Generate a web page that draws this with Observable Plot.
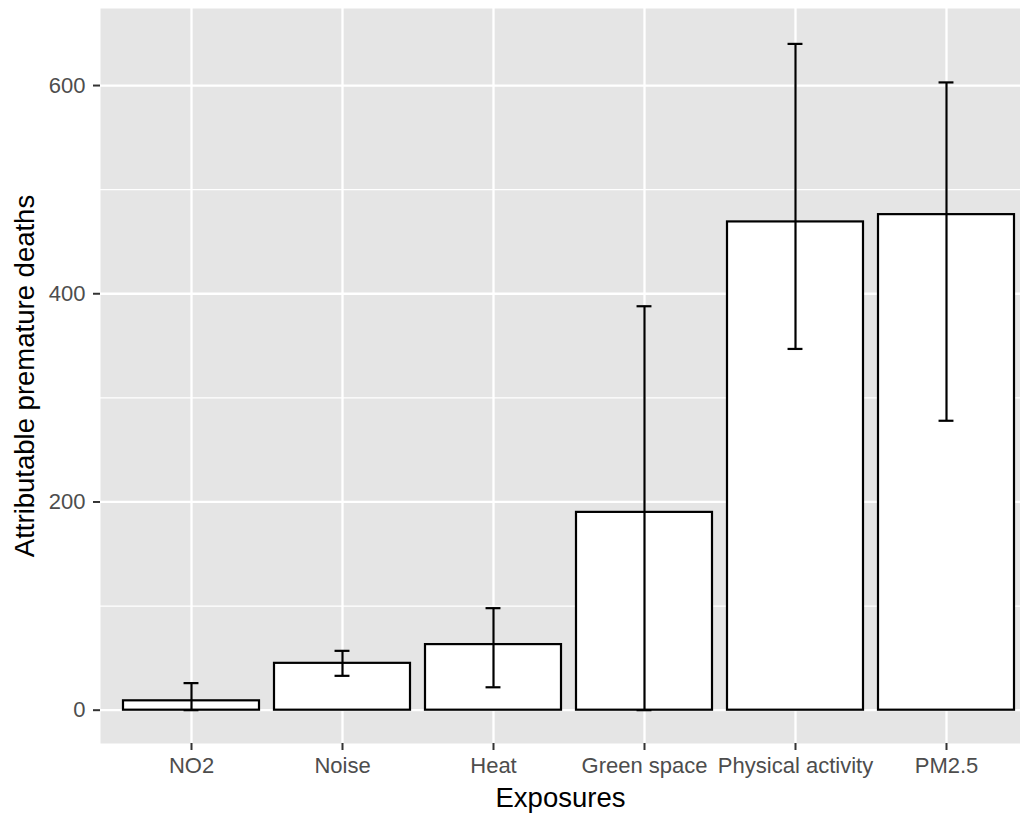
<!DOCTYPE html>
<html>
<head>
<meta charset="utf-8">
<script src="https://cdn.jsdelivr.net/npm/d3@7"></script>
<script src="https://cdn.jsdelivr.net/npm/@observablehq/plot@0.6"></script>
<style>
  html, body { margin: 0; padding: 0; background: #fff; overflow: hidden; }
  #chart svg { display: block; }
</style>
</head>
<body>
<div id="chart"></div>
<script>
const exposures = ["NO2", "Noise", "Heat", "Green space", "Physical activity", "PM2.5"];
const deaths = [9, 45, 63, 190, 469, 476];
const lower = [0, 33, 22, 0, 347, 278];
const upper = [26, 57, 98, 388, 640, 603];
const yMajor = [0, 200, 400, 600];
const yMinor = [100, 300, 500];
const xTitle = "Exposures";
const yTitle = "Attributable premature deaths";

const rows = exposures.map((e, i) => ({exposure: e, deaths: deaths[i], lower: lower[i], upper: upper[i]}));

const W = 1020, H = 816;
const bandStep = (946 - 190) / 5;
const xRange = [190 - 0.6 * bandStep, 946 + 0.6 * bandStep];
const bandwidth = 0.9 * bandStep;
const capInset = (bandwidth - 15) / 2;

const chart = Plot.plot({
  width: W,
  height: H,
  marginLeft: 100,
  marginRight: 0,
  marginTop: 8,
  marginBottom: 73,
  style: {fontFamily: "'Liberation Sans', Arial, Helvetica, sans-serif", background: "#fff"},
  x: {domain: exposures, range: xRange, paddingInner: 0.1, paddingOuter: 0.15, align: 0.5, axis: null},
  y: {domain: [-32, 674], axis: null},
  marks: [
    Plot.frame({fill: "#e5e5e5", stroke: null}),
    Plot.gridY(yMinor, {stroke: "#fff", strokeOpacity: 1, strokeWidth: 1.2}),
    Plot.gridY(yMajor, {stroke: "#fff", strokeOpacity: 1, strokeWidth: 2.3}),
    Plot.ruleX(exposures, {x: d => d, stroke: "#fff", strokeOpacity: 1, strokeWidth: 2.3}),
    Plot.barY(rows, {x: "exposure", y1: 0, y2: "deaths", fill: "#fff", stroke: "#000", strokeWidth: 2.2}),
    Plot.ruleX(rows, {x: "exposure", y1: "lower", y2: "upper", stroke: "#000", strokeWidth: 2.2}),
    Plot.tickY(rows, {x: "exposure", y: "upper", stroke: "#000", strokeWidth: 2.2, insetLeft: capInset, insetRight: capInset}),
    Plot.tickY(rows, {x: "exposure", y: "lower", stroke: "#000", strokeWidth: 2.2, insetLeft: capInset, insetRight: capInset}),
    Plot.axisY({ticks: yMajor, tickSize: 7, tickPadding: 8, fontSize: 22, stroke: "#333", strokeWidth: 2, fill: "#4d4d4d", label: null}),
    Plot.axisX({tickSize: 7, tickPadding: 7, fontSize: 22, stroke: "#333", strokeWidth: 2, fill: "#4d4d4d", label: null}),
    Plot.text([xTitle], {text: d => d, frameAnchor: "bottom", dy: 55, fontSize: 27.5, fill: "#000", textAnchor: "middle", lineAnchor: "middle"}),
    Plot.text([yTitle], {text: d => d, frameAnchor: "left", dx: -75, rotate: -90, fontSize: 27.5, fill: "#000", textAnchor: "middle", lineAnchor: "middle"})
  ]
});
document.getElementById("chart").appendChild(chart);
</script>
</body>
</html>
